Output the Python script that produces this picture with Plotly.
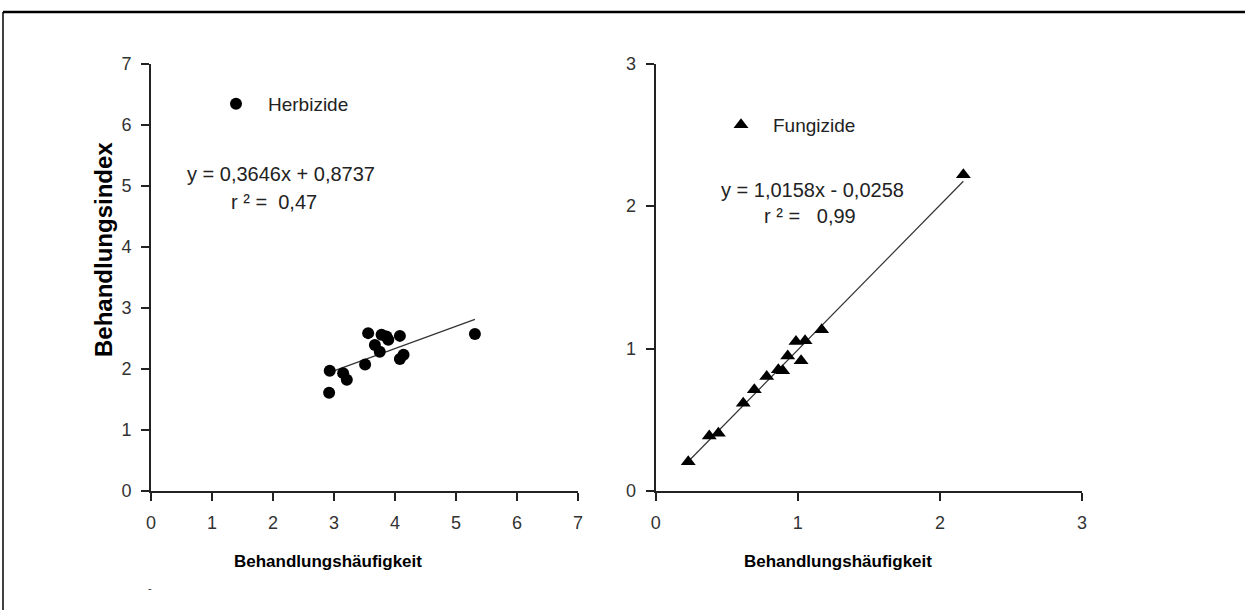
import plotly.graph_objects as go

W, H = 1245, 610

# Herbizide data
herb_x = [3.56, 3.78, 3.86, 3.89, 4.08, 3.67, 3.75, 4.14, 4.08, 3.51, 2.93, 3.15, 3.21, 2.92, 5.31]
herb_y = [2.585, 2.56, 2.53, 2.475, 2.54, 2.39, 2.28, 2.23, 2.16, 2.07, 1.97, 1.93, 1.82, 1.61, 2.57]
herb_slope, herb_icpt = 0.3646, 0.8737

# Fungizide data
fung_x = [2.165, 1.168, 0.987, 1.051, 0.929, 1.023, 0.863, 0.894, 0.781, 0.694, 0.616, 0.377, 0.441, 0.229]
fung_y = [2.22, 1.131, 1.049, 1.054, 0.948, 0.914, 0.85, 0.843, 0.803, 0.71, 0.616, 0.386, 0.405, 0.206]
fung_slope, fung_icpt = 1.0158, -0.0258

herb_ticks = [0, 1, 2, 3, 4, 5, 6, 7]
fung_ticks = [0, 1, 2, 3]

FONT = "Liberation Sans"
NB = "\u00a0"

def px(v):
    return v / W

def py(v):
    return 1 - v / H

fig = go.Figure()

hx = [min(herb_x), max(herb_x)]
fig.add_trace(go.Scatter(x=hx, y=[herb_slope * v + herb_icpt for v in hx], mode="lines",
                         line=dict(color="#333", width=1.2), showlegend=False, xaxis="x", yaxis="y"))
fig.add_trace(go.Scatter(x=herb_x, y=herb_y, mode="markers", name="Herbizide",
                         marker=dict(symbol="circle", size=12, color="black"),
                         xaxis="x", yaxis="y", legend="legend"))

fx = [min(fung_x), max(fung_x)]
fig.add_trace(go.Scatter(x=fx, y=[fung_slope * v + fung_icpt for v in fx], mode="lines",
                         line=dict(color="#333", width=1.2), showlegend=False, xaxis="x2", yaxis="y2"))
fig.add_trace(go.Scatter(x=fung_x, y=fung_y, mode="markers", name="Fungizide",
                         marker=dict(symbol="triangle-up", size=13, color="black"),
                         xaxis="x2", yaxis="y2", legend="legend2"))

axis_common = dict(showgrid=False, zeroline=False, showline=True, linecolor="#222", linewidth=2,
                   ticks="outside", ticklen=8, tickcolor="#222", tickwidth=2, ticklabelstandoff=6,
                   tickfont=dict(family=FONT, size=18, color="#333"))

ydom = [py(491), py(63.5)]
leg_common = dict(xanchor="left", yanchor="middle", bgcolor="rgba(0,0,0,0)", itemwidth=54,
                  font=dict(family=FONT, size=19, color="#222"))
fig.update_layout(
    width=W, height=H,
    margin=dict(l=0, r=0, t=0, b=0, autoexpand=False),
    paper_bgcolor="white", plot_bgcolor="white",
    xaxis=dict(domain=[px(151), px(578)], range=[0, 7], tickvals=herb_ticks, anchor="y", **axis_common),
    yaxis=dict(domain=ydom, range=[0, 7], tickvals=herb_ticks, anchor="x", **axis_common),
    xaxis2=dict(domain=[px(655.7), px(1082)], range=[0, 3], tickvals=fung_ticks, anchor="y2", **axis_common),
    yaxis2=dict(domain=ydom, range=[0, 3], tickvals=fung_ticks, anchor="x2", **axis_common),
    legend=dict(x=px(204), y=py(104), **leg_common),
    legend2=dict(x=px(709), y=py(125), **leg_common),
    showlegend=True,
)

eq_font = dict(family=FONT, size=20, color="#222")
fig.add_annotation(xref="paper", yref="paper", showarrow=False, text="y = 0,3646x + 0,8737",
                   x=px(281), y=py(174), xanchor="center", yanchor="middle", font=eq_font)
fig.add_annotation(xref="paper", yref="paper", showarrow=False, text="r ² =" + NB + " 0,47",
                   x=px(229), y=py(202), xanchor="left", yanchor="middle", font=eq_font)
fig.add_annotation(xref="paper", yref="paper", showarrow=False, text="y = 1,0158x - 0,0258",
                   x=px(813), y=py(190), xanchor="center", yanchor="middle", font=eq_font)
fig.add_annotation(xref="paper", yref="paper", showarrow=False, text="r ² =" + NB * 2 + " 0,99",
                   x=px(762), y=py(216), xanchor="left", yanchor="middle", font=eq_font)

for txt, x in [("Behandlungshäufigkeit", 328), ("Behandlungshäufigkeit", 838)]:
    fig.add_annotation(xref="paper", yref="paper", showarrow=False, text="<b>" + txt + "</b>",
                       x=px(x), y=py(561), xanchor="center", yanchor="middle",
                       font=dict(family=FONT, size=17, color="black"))
fig.add_annotation(xref="paper", yref="paper", showarrow=False, text="<b>Behandlungsindex</b>",
                   x=px(103), y=py(250), xanchor="center", yanchor="middle", textangle=-90,
                   font=dict(family=FONT, size=24, color="black"))
fig.add_annotation(xref="paper", yref="paper", showarrow=False, text="-",
                   x=px(150), y=py(588), xanchor="center", yanchor="middle",
                   font=dict(family=FONT, size=11, color="#333"))

# page frame: top and left border
fig.add_shape(type="line", xref="paper", yref="paper", x0=px(3), x1=1, y0=py(12), y1=py(12),
              line=dict(color="black", width=2.5))
fig.add_shape(type="line", xref="paper", yref="paper", x0=px(3), x1=px(3), y0=py(12), y1=0,
              line=dict(color="black", width=1.5))

fig.write_html("out.html", config={"displayModeBar": False},
               post_script="document.body.style.margin='0';document.body.style.overflow='hidden';")
